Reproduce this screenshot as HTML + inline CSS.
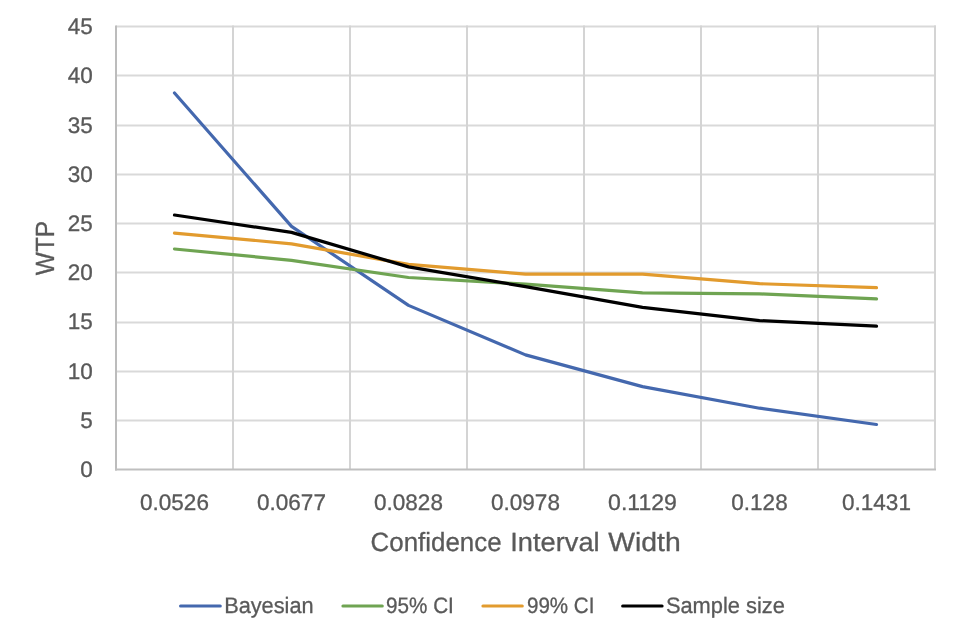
<!DOCTYPE html>
<html><head><meta charset="utf-8"><title>WTP vs Confidence Interval Width</title>
<style>
html,body{margin:0;padding:0;background:#fff;width:958px;height:639px;overflow:hidden}
svg{display:block;filter:blur(0.3px)}
text{text-rendering:geometricPrecision;font-family:"Liberation Sans",Arial,sans-serif;fill:#595959;stroke:#595959;stroke-width:0.3px}
</style></head><body>
<svg width="958" height="639" viewBox="0 0 958 639">
<rect width="958" height="639" fill="#fff"/>
<g stroke="#d9d9d9" stroke-width="1.9" fill="none">
<line x1="116" y1="26.5" x2="936" y2="26.5"/>
<line x1="116" y1="75.5" x2="936" y2="75.5"/>
<line x1="116" y1="125.5" x2="936" y2="125.5"/>
<line x1="116" y1="174.5" x2="936" y2="174.5"/>
<line x1="116" y1="223.5" x2="936" y2="223.5"/>
<line x1="116" y1="272.5" x2="936" y2="272.5"/>
<line x1="116" y1="322.5" x2="936" y2="322.5"/>
<line x1="116" y1="371.5" x2="936" y2="371.5"/>
<line x1="116" y1="420.5" x2="936" y2="420.5"/>
</g>
<g stroke="#d4d4d4" stroke-width="2" fill="none">
<line x1="233" y1="25.6" x2="233" y2="469.5"/>
<line x1="350" y1="25.6" x2="350" y2="469.5"/>
<line x1="467" y1="25.6" x2="467" y2="469.5"/>
<line x1="584" y1="25.6" x2="584" y2="469.5"/>
<line x1="701" y1="25.6" x2="701" y2="469.5"/>
<line x1="818" y1="25.6" x2="818" y2="469.5"/>
<line x1="935" y1="25.6" x2="935" y2="469.5"/>
</g>
<line x1="116" y1="25.6" x2="116" y2="470.5" stroke="#bcbcbc" stroke-width="2"/>
<line x1="115" y1="469.5" x2="936" y2="469.5" stroke="#bfbfbf" stroke-width="1.8"/>
<polyline points="174.5,93 291.5,226.4 408.5,305.4 525.5,354.9 642.5,386.6 759.5,408.2 876.5,424.5" fill="none" stroke="#4468AE" stroke-width="3.2" stroke-linejoin="round" stroke-linecap="round"/>
<polyline points="174.5,249.0 291.5,260.3 408.5,277.5 525.5,284.1 642.5,292.8 759.5,293.9 876.5,298.9" fill="none" stroke="#6FA452" stroke-width="3.2" stroke-linejoin="round" stroke-linecap="round"/>
<polyline points="174.5,233.05 291.5,243.8 408.5,264.3 525.5,274.1 642.5,274.1 759.5,283.7 876.5,287.7" fill="none" stroke="#E29B2E" stroke-width="3.2" stroke-linejoin="round" stroke-linecap="round"/>
<polyline points="174.5,215.0 291.5,232.4 408.5,266.9 525.5,286.7 642.5,307.3 759.5,320.6 876.5,326.1" fill="none" stroke="#000000" stroke-width="3.2" stroke-linejoin="round" stroke-linecap="round"/>
<g font-size="22.5" text-anchor="end">
<text x="92.7" y="34.1" textLength="25.02" lengthAdjust="spacingAndGlyphs">45</text>
<text x="92.7" y="83.3" textLength="25.02" lengthAdjust="spacingAndGlyphs">40</text>
<text x="92.7" y="132.5" textLength="25.02" lengthAdjust="spacingAndGlyphs">35</text>
<text x="92.7" y="181.8" textLength="25.02" lengthAdjust="spacingAndGlyphs">30</text>
<text x="92.7" y="231.0" textLength="25.02" lengthAdjust="spacingAndGlyphs">25</text>
<text x="92.7" y="280.2" textLength="25.02" lengthAdjust="spacingAndGlyphs">20</text>
<text x="92.7" y="329.4" textLength="25.02" lengthAdjust="spacingAndGlyphs">15</text>
<text x="92.7" y="378.6" textLength="25.02" lengthAdjust="spacingAndGlyphs">10</text>
<text x="92.7" y="427.9" textLength="12.51" lengthAdjust="spacingAndGlyphs">5</text>
<text x="92.7" y="477.1" textLength="12.51" lengthAdjust="spacingAndGlyphs">0</text>
</g>
<g font-size="22.5" text-anchor="middle">
<text x="174.5" y="509.8" textLength="68.81" lengthAdjust="spacingAndGlyphs">0.0526</text>
<text x="291.5" y="509.8" textLength="68.81" lengthAdjust="spacingAndGlyphs">0.0677</text>
<text x="408.5" y="509.8" textLength="68.81" lengthAdjust="spacingAndGlyphs">0.0828</text>
<text x="525.5" y="509.8" textLength="68.81" lengthAdjust="spacingAndGlyphs">0.0978</text>
<text x="642.5" y="509.8" textLength="68.81" lengthAdjust="spacingAndGlyphs">0.1129</text>
<text x="759.5" y="509.8" textLength="56.30" lengthAdjust="spacingAndGlyphs">0.128</text>
<text x="876.5" y="509.8" textLength="68.81" lengthAdjust="spacingAndGlyphs">0.1431</text>
</g>
<g font-size="26.4">
<text x="370.54" y="551" textLength="131.03" lengthAdjust="spacingAndGlyphs">Confidence</text>
<text x="510.28" y="551" textLength="89.37" lengthAdjust="spacingAndGlyphs">Interval</text>
<text x="608.28" y="551" textLength="72.48" lengthAdjust="spacingAndGlyphs">Width</text>
</g>
<text transform="translate(53.6,248.0) rotate(-90)" font-size="26.3" text-anchor="middle" textLength="54.3" lengthAdjust="spacingAndGlyphs">WTP</text>
<g font-size="22.3">
<line x1="180.5" y1="606" x2="220.3" y2="606" stroke="#4468AE" stroke-width="3" stroke-linecap="round"/>
<text x="224.15" y="612.5" textLength="89.46" lengthAdjust="spacingAndGlyphs">Bayesian</text>
<line x1="342.9" y1="606" x2="382.3" y2="606" stroke="#6FA452" stroke-width="3" stroke-linecap="round"/>
<text x="386.08" y="612.5" textLength="67.77" lengthAdjust="spacingAndGlyphs">95% CI</text>
<line x1="482.9" y1="606" x2="522.3" y2="606" stroke="#E29B2E" stroke-width="3" stroke-linecap="round"/>
<text x="526.94" y="612.5" textLength="67.51" lengthAdjust="spacingAndGlyphs">99% CI</text>
<line x1="622.6" y1="606" x2="662.1" y2="606" stroke="#000000" stroke-width="3" stroke-linecap="round"/>
<text x="665.92" y="612.5" textLength="118.97" lengthAdjust="spacingAndGlyphs">Sample size</text>
</g>
</svg></body></html>
